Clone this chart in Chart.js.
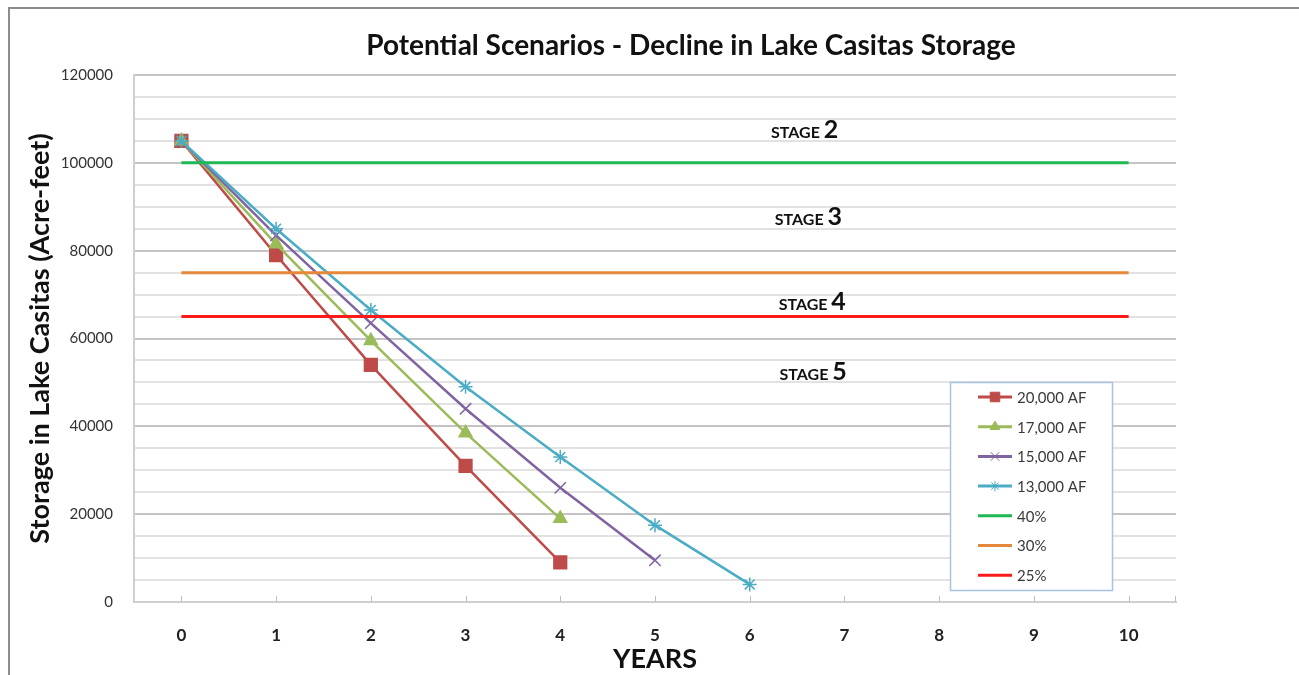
<!DOCTYPE html>
<html>
<head>
<meta charset="utf-8">
<title>Decline in Lake Casitas Storage</title>
<script src="https://cdn.jsdelivr.net/npm/chart.js@4.4.1/dist/chart.umd.min.js"></script>
<style>
    html, body { margin: 0; padding: 0; background: #fff; }
    #wrap { position: relative; width: 1299px; height: 675px; overflow: hidden; }
    #wrap canvas { position: absolute; left: 0; top: 0; }
    #frame {
        position: absolute; left: 8px; top: 7px; width: 1400px; height: 800px;
        border-top: 2px solid #8c8c8c; border-left: 2px solid #8c8c8c;
        pointer-events: none;
    }
</style>
</head>
<body>
<div id="wrap">
    <canvas id="storageChart" width="1299" height="675"></canvas>
    <div id="frame"></div>
</div>
<script>
// values (acre-feet)
const years = ['0', '1', '2', '3', '4', '5', '6', '7', '8', '9', '10'];
const af20000 = [105000, 79000, 54000, 31000, 9000];
const af17000 = [105000, 81500, 59500, 38500, 19000];
const af15000 = [105000, 83500, 63500, 44000, 26000, 9500];
const af13000 = [105000, 85000, 66500, 49000, 33000, 17500, 4000];
const pct40 = [100000, 100000, 100000, 100000, 100000, 100000, 100000, 100000, 100000, 100000, 100000];
const pct30 = [75000, 75000, 75000, 75000, 75000, 75000, 75000, 75000, 75000, 75000, 75000];
const pct25 = [65000, 65000, 65000, 65000, 65000, 65000, 65000, 65000, 65000, 65000, 65000];
const seriesNames = ['20,000 AF', '17,000 AF', '15,000 AF', '13,000 AF', '40%', '30%', '25%'];
const yTickLabels = [0, 20000, 40000, 60000, 80000, 100000, 120000];
const chartTitle = 'Potential Scenarios - Decline in Lake Casitas Storage';

// stage annotations: label, x (year index), y (acre-feet)
const stageNames = ['2', '3', '4', '5'];
const stageX = [6.58, 6.62, 6.66, 6.67];
const stageY = [107700, 87900, 68500, 52600];

const FONT = 'Lato, "Open Sans", sans-serif';

function scenario(label, data, color, style, radius, order) {
    return {
        label: label,
        data: data,
        borderColor: color,
        backgroundColor: color,
        pointBackgroundColor: color,
        pointBorderColor: color,
        pointStyle: style,
        pointRadius: radius,
        pointBorderWidth: 1.5,
        borderWidth: 2.5,
        order: order
    };
}

function stageLine(label, data, color, order) {
    return {
        label: label,
        data: data,
        borderColor: color,
        backgroundColor: color,
        pointRadius: 0,
        borderWidth: 3,
        order: order
    };
}

// title is centred a bit right of the plot, so it's drawn by hand
const titlePlugin = {
    id: 'bigTitle',
    afterDraw: function (chart) {
        const ctx = chart.ctx;
        ctx.save();
        ctx.fillStyle = '#111';
        ctx.font = 'bold 28px ' + FONT;
        ctx.textAlign = 'center';
        ctx.textBaseline = 'middle';
        ctx.fillText(chartTitle, 691, 46);
        ctx.restore();
    }
};

// small tick marks on the year axis (inside, like the original)
const yearTicks = {
    id: 'yearTicks',
    afterDraw: function (chart) {
        const ctx = chart.ctx;
        const xs = chart.scales.x;
        const bottom = chart.chartArea.bottom;
        ctx.save();
        ctx.strokeStyle = '#bdbdbd';
        ctx.lineWidth = 1;
        for (let i = 0; i < xs.ticks.length; i++) {
            const x = Math.round(xs.getPixelForTick(i)) + 0.5;
            ctx.beginPath();
            ctx.moveTo(x, bottom - 6);
            ctx.lineTo(x, bottom);
            ctx.stroke();
        }
        const xr = Math.round(chart.chartArea.right) - 0.5;
        ctx.beginPath();
        ctx.moveTo(xr, bottom - 6);
        ctx.lineTo(xr, bottom);
        ctx.stroke();
        ctx.restore();
    }
};

const stageLabels = {
    id: 'stageLabels',
    afterDraw: function (chart) {
        const ctx = chart.ctx;
        const xs = chart.scales.x;
        const ys = chart.scales.y;
        ctx.save();
        ctx.fillStyle = '#111';
        ctx.textBaseline = 'alphabetic';
        stageNames.forEach((n, i) => {
            const cx = xs.getPixelForValue(stageX[i]);
            const cy = ys.getPixelForValue(stageY[i]);
            ctx.font = 'bold 16px ' + FONT;
            const w1 = ctx.measureText('STAGE ').width;
            ctx.font = 'bold 25px ' + FONT;
            const w2 = ctx.measureText(n).width;
            let x = cx - (w1 + w2) / 2;
            ctx.font = 'bold 16px ' + FONT;
            ctx.fillText('STAGE ', x, cy + 9);
            ctx.font = 'bold 25px ' + FONT;
            ctx.fillText(n, x + w1, cy + 9);
        });
        ctx.restore();
    }
};

const boxLegend = {
    id: 'boxLegend',
    afterDraw: function (chart) {
        const ctx = chart.ctx;
        const bx = 950, by = 382, bw = 162, bh = 208;
        ctx.save();
        ctx.fillStyle = '#fff';
        ctx.fillRect(bx, by, bw, bh);
        ctx.strokeStyle = '#a9c1e2';
        ctx.lineWidth = 1.5;
        ctx.strokeRect(bx + 0.5, by + 0.5, bw, bh);

        chart.data.datasets.forEach((ds, i) => {
            const y = by + 15 + i * 29.7;
            ctx.strokeStyle = ds.borderColor;
            ctx.lineWidth = 3;
            ctx.beginPath();
            ctx.moveTo(978, y);
            ctx.lineTo(1012, y);
            ctx.stroke();
            if (ds.pointRadius && Chart.helpers && Chart.helpers.drawPoint) {
                ctx.fillStyle = ds.pointBackgroundColor;
                ctx.strokeStyle = ds.pointBorderColor;
                ctx.lineWidth = 1;
                Chart.helpers.drawPoint(ctx, {
                    pointStyle: ds.pointStyle,
                    radius: ds.pointRadius * 0.75,
                    rotation: 0,
                    borderWidth: 1
                }, 995, y);
            }
            ctx.fillStyle = '#3a3a3a';
            ctx.font = '15px ' + FONT;
            ctx.textBaseline = 'middle';
            ctx.fillText(ds.label, 1017, y + 1);
        });
        ctx.restore();
    }
};

const ctx = document.getElementById('storageChart').getContext('2d');

new Chart(ctx, {
    type: 'line',
    data: {
        labels: years,
        datasets: [
            scenario(seriesNames[0], af20000, '#be4b48', 'rect', 9, 7),
            scenario(seriesNames[1], af17000, '#9bbb59', 'triangle', 7.5, 6),
            scenario(seriesNames[2], af15000, '#8064a2', 'crossRot', 8, 5),
            scenario(seriesNames[3], af13000, '#4bacc6', 'star', 7, 4),
            stageLine(seriesNames[4], pct40, '#1db954', 3),
            stageLine(seriesNames[5], pct30, '#e6883c', 2),
            stageLine(seriesNames[6], pct25, '#ff1a1a', 1)
        ]
    },
    options: {
        responsive: false,
        animation: false,
        layout: {
            padding: { top: 75, left: 22, right: 123, bottom: 0 }
        },
        plugins: {
            legend: { display: false },
            tooltip: { enabled: false },
            title: { display: false }
        },
        scales: {
            x: {
                type: 'category',
                offset: true,
                afterFit: function (scale) {
                    scale.height = 73;
                },
                grid: { display: false, drawTicks: false },
                border: { display: true, color: '#cfcfcf', width: 2 },
                ticks: {
                    color: '#222',
                    padding: 23,
                    autoSkip: false,
                    maxRotation: 0,
                    font: { family: FONT, size: 17, weight: 'bold' }
                },
                title: {
                    display: true,
                    text: 'YEARS',
                    color: '#111',
                    padding: { top: 2, bottom: 0 },
                    font: { family: FONT, size: 27, weight: 'bold' }
                }
            },
            y: {
                min: 0,
                max: 120000,
                afterFit: function (scale) {
                    scale.width = 112;
                },
                grid: {
                    drawTicks: false,
                    lineWidth: 2,
                    color: function (c) {
                        return yTickLabels.indexOf(c.tick.value) >= 0 ? '#c4c4c4' : '#e2e2e2';
                    }
                },
                border: { display: true, color: '#cfcfcf', width: 2 },
                ticks: {
                    stepSize: 5000,
                    autoSkip: false,
                    padding: 21,
                    color: '#333',
                    font: { family: FONT, size: 15 },
                    callback: function (v) {
                        return yTickLabels.indexOf(v) >= 0 ? String(v) : '';
                    }
                },
                title: {
                    display: true,
                    text: 'Storage in Lake Casitas (Acre-feet)',
                    color: '#111',
                    padding: { top: 2, bottom: 4 },
                    font: { family: FONT, size: 27, weight: 'bold' }
                }
            }
        }
    },
    plugins: [yearTicks, stageLabels, boxLegend, titlePlugin]
});
</script>
</body>
</html>
